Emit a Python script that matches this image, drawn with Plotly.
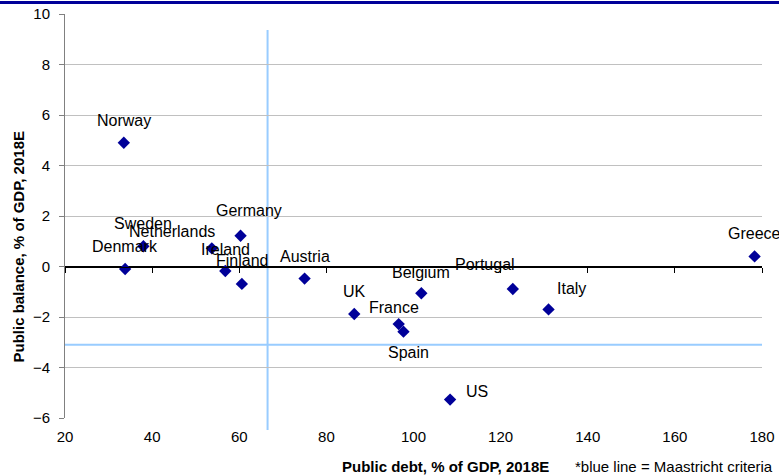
import plotly.graph_objects as go

countries = ["Norway", "Sweden", "Netherlands", "Denmark", "Germany", "Ireland", "Finland",
             "Austria", "UK", "Belgium", "Portugal", "Italy", "France", "Spain", "US", "Greece"]
public_debt = [33.5, 38.0, 53.7, 33.8, 60.3, 56.8, 60.6, 75.0, 86.4, 101.8, 122.8, 131.0, 96.6, 97.7, 108.4, 178.3]
public_balance = [4.9, 0.8, 0.72, -0.1, 1.22, -0.18, -0.69, -0.48, -1.88, -1.06, -0.89, -1.7, -2.28, -2.58, -5.27, 0.4]

maastricht_debt = 66.5
maastricht_balance = -3.1
vline_top = 9.37

x_ticks = [20, 40, 60, 80, 100, 120, 140, 160, 180]
y_ticks = [-6, -4, -2, 0, 2, 4, 6, 8, 10]

# label offsets in pixels (dx, dy up)
label_offsets = {
    "Norway": (0, 22), "Sweden": (0, 23), "Netherlands": (-40, 17), "Denmark": (0, 23),
    "Germany": (8, 25), "Ireland": (0, 22), "Finland": (0, 23), "Austria": (0, 22),
    "UK": (0, 22), "Belgium": (0, 21), "Portugal": (-28, 24), "Italy": (23, 21),
    "France": (-5, 17), "Spain": (5, -21), "US": (27, 8), "Greece": (0, 23),
}

FONT = "Liberation Sans, Arial, sans-serif"
BLUE_LINE = "#99CCFF"
Y_MIN, Y_MAX = y_ticks[0], y_ticks[-1]
L, R, T, B = 65, 17, 14, 57
PW, PH = 779 - L - R, 475 - T - B

fig = go.Figure()

fig.add_trace(go.Scatter(x=[x_ticks[0], x_ticks[-1]], y=[maastricht_balance, maastricht_balance],
                         mode="lines", line=dict(color=BLUE_LINE, width=2), hoverinfo="skip",
                         showlegend=False))

fig.add_trace(go.Scatter(x=public_debt, y=public_balance, mode="markers", text=countries,
                         marker=dict(symbol="diamond", size=9.5, color="#000099"),
                         showlegend=False, cliponaxis=False))

# helper trace for the zero-line axis with ticks
fig.add_trace(go.Scatter(x=[x_ticks[0]], y=[0], xaxis="x2", mode="markers",
                         marker=dict(opacity=0), hoverinfo="skip", showlegend=False))

# vertical Maastricht line (extends slightly below the axis)
fig.add_shape(type="line", xref="x", yref="paper", x0=maastricht_debt, x1=maastricht_debt,
              y0=-12/PH, y1=(vline_top - Y_MIN) / (Y_MAX - Y_MIN),
              line=dict(color=BLUE_LINE, width=2), layer="below")

for c, xv, yv in zip(countries, public_debt, public_balance):
    dx, dy = label_offsets[c]
    fig.add_annotation(x=xv, y=yv, text=c, showarrow=False, xshift=dx, yshift=dy,
                       font=dict(family=FONT, size=16, color="black"))

fig.update_layout(
    width=779, height=475,
    margin=dict(l=L, r=R, t=T, b=B, autoexpand=False),
    plot_bgcolor="white", paper_bgcolor="white",
    font=dict(family=FONT, size=15, color="black"),
    xaxis=dict(range=[20, 180], tickvals=x_ticks, showgrid=False, zeroline=False,
               showline=False, ticks="", tickfont=dict(size=15), ticklabelstandoff=8,
               automargin=False),
    xaxis2=dict(range=[20, 180], tickvals=x_ticks, overlaying="x", anchor="free", position=0.375,
                side="bottom", showline=True, linecolor="black", linewidth=1, ticks="outside",
                ticklen=5, tickcolor="black", showticklabels=False, showgrid=False, zeroline=False,
                automargin=False),
    yaxis=dict(range=[Y_MIN, Y_MAX], tickvals=y_ticks, showgrid=True, gridcolor="#C0C0C0", gridwidth=1,
               zeroline=True, zerolinecolor="black", zerolinewidth=1,
               showline=True, linecolor="#808080", linewidth=1, ticks="outside", ticklen=5,
               tickcolor="#808080", tickfont=dict(size=15), ticklabelstandoff=6, automargin=False),
    showlegend=False,
)

# top border line (drawn as a paper-referenced rectangle)
fig.add_shape(type="rect", xref="paper", yref="paper", x0=-L/PW, x1=1 + R/PW,
              y0=1 + (T - 4)/PH, y1=1 + (T - 1)/PH, line=dict(width=0),
              fillcolor="#000099", layer="above")

fig.add_annotation(xref="paper", yref="paper", x=(445 - L)/PW, y=-48/PH, yanchor="middle",
                   text="<b>Public debt, % of GDP, 2018E</b>", showarrow=False,
                   font=dict(family=FONT, size=15, color="black"))
fig.add_annotation(xref="paper", yref="paper", x=1 + 13/PW, xanchor="right", y=-48/PH,
                   yanchor="middle", text="*blue line = Maastricht criteria", showarrow=False,
                   font=dict(family=FONT, size=15, color="black"))
fig.add_annotation(xref="paper", yref="paper", x=-(L - 18)/PW, xanchor="center",
                   y=(418 - 247.5) / PH, yanchor="middle", textangle=-90,
                   text="<b>Public balance, % of GDP, 2018E</b>", showarrow=False,
                   font=dict(family=FONT, size=15, color="black"))

fig.write_html(
    "out.html",
    config={"displayModeBar": False},
    post_script="document.body.style.margin='0';document.body.style.padding='0';"
                "document.documentElement.style.margin='0';"
                "document.documentElement.style.overflow='hidden';"
)
